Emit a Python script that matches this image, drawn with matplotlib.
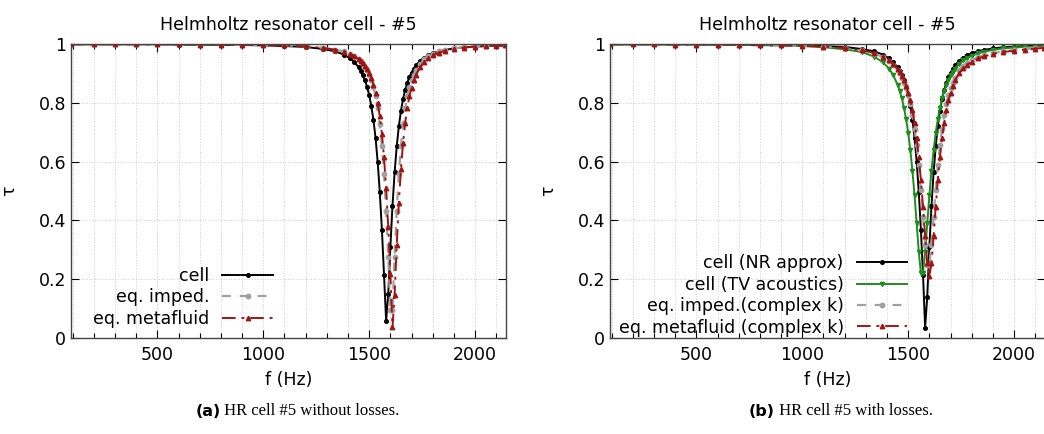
import matplotlib
matplotlib.use('Agg')
import matplotlib.pyplot as plt
from matplotlib.ticker import MultipleLocator

# frequency grid (Hz), shared by every series
freq = [90, 200, 300, 400, 500, 600, 700, 800, 900, 1000, 1100, 1200, 1280, 1340, 1380,
        1410, 1430, 1450, 1460, 1470, 1480, 1490, 1500, 1510, 1520, 1530, 1540, 1550,
        1560, 1570, 1580, 1590, 1600, 1610, 1620, 1630, 1640, 1650, 1660, 1670, 1680,
        1690, 1700, 1710, 1720, 1740, 1760, 1780, 1800, 1830, 1860, 1900, 1950, 2000,
        2050, 2100, 2140]

# (a) without losses
cell_a = [0.999, 0.999, 0.999, 0.999, 0.999, 0.998, 0.998, 0.997, 0.997, 0.995, 0.993,
          0.990, 0.983, 0.975, 0.964, 0.951, 0.938, 0.921, 0.909, 0.894, 0.877, 0.854,
          0.826, 0.789, 0.742, 0.681, 0.600, 0.496, 0.369, 0.215, 0.058, 0.150, 0.310,
          0.449, 0.563, 0.652, 0.720, 0.773, 0.813, 0.844, 0.868, 0.888, 0.903, 0.916,
          0.927, 0.943, 0.954, 0.962, 0.969, 0.975, 0.980, 0.985, 0.989, 0.991, 0.993,
          0.994, 0.995]
imped_a = [0.999, 0.999, 0.999, 0.999, 0.999, 0.999, 0.998, 0.998, 0.997, 0.996, 0.995,
           0.992, 0.988, 0.981, 0.975, 0.966, 0.959, 0.948, 0.941, 0.933, 0.923, 0.911,
           0.896, 0.877, 0.853, 0.822, 0.781, 0.727, 0.654, 0.558, 0.433, 0.277, 0.096,
           0.096, 0.277, 0.433, 0.558, 0.654, 0.727, 0.781, 0.822, 0.853, 0.877, 0.896,
           0.911, 0.933, 0.948, 0.959, 0.966, 0.975, 0.980, 0.985, 0.989, 0.992, 0.993,
           0.995, 0.995]
meta_a = [0.999, 0.999, 0.999, 0.999, 0.999, 0.999, 0.998, 0.998, 0.997, 0.996, 0.995,
          0.992, 0.987, 0.981, 0.974, 0.966, 0.959, 0.949, 0.942, 0.935, 0.926, 0.915,
          0.901, 0.884, 0.862, 0.835, 0.800, 0.754, 0.694, 0.614, 0.510, 0.377, 0.217,
          0.037, 0.147, 0.316, 0.460, 0.575, 0.664, 0.732, 0.783, 0.822, 0.852, 0.876,
          0.894, 0.921, 0.939, 0.952, 0.961, 0.971, 0.977, 0.983, 0.988, 0.991, 0.993,
          0.994, 0.995]

# (b) with losses
nr_b = [0.999, 0.999, 0.999, 0.999, 0.999, 0.998, 0.998, 0.997, 0.997, 0.995, 0.993,
        0.990, 0.983, 0.975, 0.964, 0.951, 0.938, 0.921, 0.909, 0.894, 0.877, 0.854,
        0.826, 0.789, 0.742, 0.681, 0.600, 0.496, 0.369, 0.215, 0.035, 0.140, 0.310,
        0.449, 0.563, 0.652, 0.720, 0.773, 0.813, 0.844, 0.868, 0.888, 0.903, 0.916,
        0.927, 0.943, 0.954, 0.962, 0.969, 0.975, 0.980, 0.985, 0.989, 0.991, 0.993,
        0.994, 0.995]
tv_b = [0.999, 0.999, 0.999, 0.998, 0.998, 0.998, 0.997, 0.996, 0.995, 0.993, 0.989,
        0.982, 0.973, 0.957, 0.938, 0.916, 0.893, 0.861, 0.840, 0.815, 0.783, 0.745,
        0.698, 0.639, 0.569, 0.485, 0.390, 0.293, 0.221, 0.221, 0.293, 0.390, 0.485,
        0.569, 0.639, 0.698, 0.745, 0.783, 0.815, 0.840, 0.861, 0.879, 0.893, 0.905,
        0.916, 0.932, 0.944, 0.953, 0.960, 0.968, 0.974, 0.980, 0.985, 0.988, 0.990,
        0.992, 0.993]
imped_b = [0.999, 0.999, 0.999, 0.998, 0.998, 0.998, 0.997, 0.996, 0.995, 0.994, 0.991,
           0.986, 0.978, 0.967, 0.956, 0.942, 0.929, 0.911, 0.900, 0.886, 0.869, 0.849,
           0.825, 0.795, 0.758, 0.712, 0.656, 0.587, 0.505, 0.412, 0.318, 0.250, 0.250,
           0.318, 0.412, 0.505, 0.587, 0.656, 0.712, 0.758, 0.795, 0.825, 0.849, 0.869,
           0.886, 0.911, 0.925, 0.936, 0.945, 0.955, 0.962, 0.969, 0.975, 0.979, 0.983,
           0.986, 0.988]
meta_b = [0.999, 0.999, 0.999, 0.998, 0.998, 0.998, 0.997, 0.996, 0.995, 0.994, 0.991,
          0.986, 0.979, 0.969, 0.957, 0.944, 0.932, 0.915, 0.904, 0.891, 0.876, 0.858,
          0.835, 0.808, 0.774, 0.732, 0.680, 0.616, 0.538, 0.447, 0.347, 0.254, 0.210,
          0.254, 0.347, 0.447, 0.538, 0.616, 0.680, 0.732, 0.774, 0.808, 0.835, 0.858,
          0.876, 0.900, 0.918, 0.930, 0.940, 0.951, 0.958, 0.966, 0.973, 0.977, 0.981,
          0.984, 0.987]

BLACK = "#000000"
GREY = "#a0a0a0"
RED = "#a01414"
GREEN = "#1e8c1e"
FS = 12.5

plt.rcParams['font.family'] = 'DejaVu Sans'
plt.rcParams['font.size'] = FS

fig = plt.figure(figsize=(10.44, 4.34), dpi=100)
W, H = 1044.0, 434.0
ax1 = fig.add_axes([71 / W, 96 / H, 435 / W, 294 / H])
ax2 = fig.add_axes([610 / W, 96 / H, 435 / W, 294 / H])


def style(ax):
    ax.set_xlim(92, 2146)
    ax.set_ylim(0, 1)
    ax.xaxis.set_major_locator(MultipleLocator(500))
    ax.xaxis.set_minor_locator(MultipleLocator(100))
    ax.set_yticks([0, 0.2, 0.4, 0.6, 0.8, 1.0])
    ax.set_yticklabels(["0", "0.2", "0.4", "0.6", "0.8", "1"])
    ax.tick_params(which='both', direction='in', top=True, right=True, labelsize=FS)
    ax.tick_params(which='major', length=6, width=0.8)
    ax.tick_params(which='minor', length=3.5, width=0.8)
    ax.tick_params(axis='x', which='major', pad=6)
    ax.grid(which='both', axis='x', color='#d0d0d0', linestyle=':', linewidth=0.7)
    ax.grid(which='major', axis='y', color='#d0d0d0', linestyle=':', linewidth=0.7)
    ax.set_axisbelow(True)
    for s in ax.spines.values():
        s.set_color('#444444')
        s.set_linewidth(1.0)
    ax.set_xlabel("f (Hz)", fontsize=FS, labelpad=5)
    ax.set_ylabel("τ", fontsize=FS)
    ax.yaxis.set_label_coords(-0.121, 0.5)
    ax.set_title("Helmholtz resonator cell - #5", fontsize=FS, pad=10)


style(ax1)
ax1.plot(freq, cell_a, '-o', color=BLACK, lw=1.4, ms=2.6, label="cell")
ax1.plot(freq, imped_a, linestyle=(0, (4, 4)), marker='o', color=GREY, lw=1.6, ms=3.2,
         label="eq. imped.")
ax1.plot(freq, meta_a, linestyle=(0, (7, 3, 1.5, 3)), marker='^', color=RED, lw=1.4,
         ms=3.2, label="eq. metafluid")
ax1.legend(loc='lower right', bbox_to_anchor=(0.464, 0.035), frameon=False,
           markerfirst=False, handlelength=2.9, handletextpad=0.75, labelspacing=0.2,
           borderpad=0, borderaxespad=0, fontsize=FS)

style(ax2)
ax2.plot(freq, nr_b, '-o', color=BLACK, lw=1.4, ms=2.6, label="cell (NR approx)")
ax2.plot(freq, tv_b, '-v', color=GREEN, lw=1.4, ms=3.0, label="cell (TV acoustics)")
ax2.plot(freq, imped_b, linestyle=(0, (4, 4)), marker='o', color=GREY, lw=1.6, ms=3.2,
         label="eq. imped.(complex k)")
ax2.plot(freq, meta_b, linestyle=(0, (7, 3, 1.5, 3)), marker='^', color=RED, lw=1.4,
         ms=3.2, label="eq. metafluid (complex k)")
ax2.legend(loc='lower right', bbox_to_anchor=(0.683, 0.005), frameon=False,
           markerfirst=False, handlelength=2.9, handletextpad=0.75, labelspacing=0.2,
           borderpad=0, borderaxespad=0, fontsize=FS)

# captions: bold sans label followed by serif text, under each panel
fig.canvas.draw()
renderer = fig.canvas.get_renderer()
for ax, tag, txt, shift in [(ax1, "(a)", "HR cell #5 without losses.", 9),
                            (ax2, "(b)", "HR cell #5 with losses.", 13)]:
    bb = ax.get_position()
    cx = (bb.x0 + bb.x1) / 2 * W + shift
    t1 = fig.text(0, 0, tag, fontsize=11.5, fontweight='bold', family='DejaVu Sans')
    t2 = fig.text(0, 0, " " + txt, fontsize=12, family='Liberation Serif')
    w1 = t1.get_window_extent(renderer).width
    w2 = t2.get_window_extent(renderer).width
    x0 = cx - (w1 + w2) / 2
    t1.set_position((x0 / W, 1 - 411 / H))
    t2.set_position(((x0 + w1) / W, 1 - 411 / H))
    t1.set_va('center')
    t2.set_va('center')

fig.savefig("out.png", dpi=100)
